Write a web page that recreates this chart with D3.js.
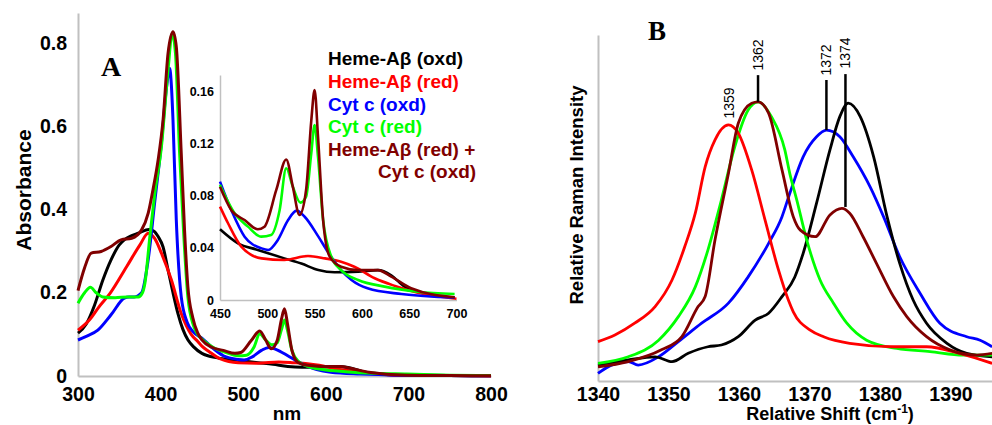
<!DOCTYPE html>
<html><head><meta charset="utf-8">
<script src="https://cdn.jsdelivr.net/npm/d3@7"></script>
<style>
body{margin:0;background:#fff;}
text{font-family:"Liberation Sans",Arial,sans-serif;}
</style></head>
<body><svg id="c" width="992" height="425"></svg>
<script>
// ---------- Panel A data (wavelength nm, absorbance) ----------
const hemeOxdA = [[300,0.103],[310,0.125],[320,0.17],[330,0.23],[340,0.279],[350,0.315],[356,0.327],[365,0.337],[373,0.343],[386,0.352],[392,0.348],[397,0.335],[403,0.31],[409,0.255],[415,0.2],[421,0.15],[427,0.112],[433,0.087],[440,0.07],[450,0.0544],[469,0.0436],[490,0.0385],[518,0.032],[536,0.028],[554,0.023],[571,0.0213],[596,0.0218],[617,0.023],[631,0.019],[645,0.0103],[666,0.005],[698,0.0018],[750,0.001],[800,0.0005]];
const hemeRedA = [[300,0.11],[314,0.135],[325,0.165],[339,0.199],[359,0.263],[375,0.315],[385,0.343],[393,0.33],[401,0.295],[413,0.231],[425,0.15],[437,0.1],[445,0.083],[450,0.0718],[458.5,0.059],[472.5,0.041],[494,0.032],[518,0.0308],[543,0.0338],[561,0.032],[578,0.0295],[592,0.0256],[613.5,0.0167],[635,0.0108],[659,0.0056],[700,0.001],[750,0.001],[800,0]];
const cytOxdA = [[300,0.0865],[310,0.095],[324,0.11],[340,0.147],[356,0.187],[362,0.19],[368,0.19],[377,0.2],[385,0.28],[393,0.42],[401,0.56],[407,0.69],[411,0.739],[413,0.7],[415,0.615],[419,0.375],[425,0.19],[432,0.13],[440,0.105],[450,0.091],[462,0.069],[476,0.0487],[494,0.0397],[501,0.0385],[511,0.046],[522,0.0615],[531,0.0687],[539.5,0.064],[554,0.0487],[564,0.037],[578,0.023],[589,0.0154],[606,0.009],[642,0.0046],[698,0.0018],[750,0.001],[800,0.0005]];
const cytRedA = [[300,0.175],[308,0.2],[315,0.213],[322,0.2],[330,0.19],[345,0.188],[360,0.19],[373,0.19],[378,0.2],[381,0.223],[387,0.335],[393,0.439],[401,0.551],[409,0.735],[414,0.823],[418,0.775],[423,0.535],[428,0.34],[433,0.19],[440,0.12],[445,0.1],[450,0.0885],[465.5,0.0667],[479.6,0.0564],[493.7,0.0487],[504,0.05],[513,0.069],[520,0.1013],[527,0.087],[535,0.0749],[541,0.0795],[546.5,0.113],[550,0.1346],[553.6,0.11],[559,0.0615],[567.7,0.0333],[578,0.023],[596,0.0154],[624,0.0103],[659,0.0064],[698,0.0046],[750,0.002],[800,0.001]];
const mixA = [[300,0.205],[308,0.26],[316,0.295],[328,0.299],[340,0.311],[352,0.327],[365,0.331],[377,0.351],[385,0.391],[391,0.45],[397,0.519],[403,0.615],[409,0.775],[415,0.827],[419,0.791],[425,0.535],[429,0.35],[433,0.215],[439,0.14],[445,0.103],[450,0.087],[462,0.069],[476,0.0615],[490,0.0544],[497,0.0564],[509.5,0.0846],[520,0.108],[527,0.087],[534,0.0654],[541,0.0846],[546.5,0.138],[550,0.1615],[553.6,0.1256],[559,0.0615],[566,0.0333],[578,0.0256],[596,0.023],[617,0.023],[631,0.018],[652,0.009],[698,0.002],[750,0.001],[800,0.0005]];

const xTicksA = [300,400,500,600,700,800];
const yTicksA = [0,0.2,0.4,0.6,0.8];
const xTicksInset = [450,500,550,600,650,700];
const yTicksInset = [0,0.04,0.08,0.12,0.16];

const legendLabels = ["Heme-A\u03b2 (oxd)","Heme-A\u03b2 (red)","Cyt c (oxd)","Cyt c (red)","Heme-A\u03b2 (red) +","Cyt c (oxd)"];

// ---------- Panel B data (relative shift cm-1, intensity) ----------
const hemeOxdB = [[1340,0.046],[1344.3,0.061],[1348.1,0.07],[1350.5,0.056],[1352.8,0.08],[1355.6,0.099],[1357.5,0.104],[1359.9,0.128],[1362.3,0.176],[1364.2,0.196],[1366.1,0.244],[1367.9,0.3],[1369.1,0.369],[1371,0.514],[1372.9,0.668],[1374.3,0.764],[1375.5,0.803],[1377.2,0.764],[1379.1,0.648],[1381,0.475],[1382.8,0.34],[1384.7,0.234],[1386.6,0.167],[1389.5,0.109],[1392.3,0.08],[1395.9,0.07]];
const hemeRedB = [[1340,0.114],[1342.4,0.133],[1345.2,0.167],[1348.1,0.215],[1350.5,0.292],[1352.3,0.388],[1353.8,0.485],[1355.2,0.619],[1356.6,0.697],[1358.5,0.74],[1359.9,0.716],[1361.8,0.61],[1363.7,0.465],[1365.6,0.321],[1367,0.234],[1367.7,0.2],[1370.1,0.147],[1372,0.128],[1375.7,0.109],[1381.9,0.099],[1386.6,0.099],[1391.3,0.08],[1395.9,0.051]];
const cytOxdB = [[1340,0.022],[1341.9,0.046],[1344.3,0.056],[1345.7,0.046],[1348.6,0.07],[1351.4,0.114],[1354.7,0.167],[1358.5,0.225],[1361.3,0.301],[1364.2,0.398],[1366.1,0.475],[1367.2,0.542],[1369.1,0.648],[1371,0.706],[1372.4,0.725],[1374.3,0.706],[1376.2,0.648],[1378.6,0.561],[1380.5,0.475],[1382.8,0.359],[1385.7,0.253],[1388.5,0.167],[1392.3,0.128],[1394.2,0.118],[1395.9,0.099]];
const cytRedB = [[1340,0.051],[1344.3,0.07],[1348.6,0.118],[1351.4,0.186],[1353.8,0.272],[1355.6,0.379],[1357.5,0.523],[1359.4,0.677],[1361.3,0.783],[1362.7,0.807],[1364.6,0.764],[1366.5,0.668],[1367.2,0.6],[1368.2,0.523],[1369.6,0.408],[1371.5,0.292],[1373.4,0.225],[1375.3,0.167],[1378.1,0.118],[1382.4,0.094],[1387.1,0.085],[1391.8,0.075],[1395.9,0.075]];
const mixB = [[1340,0.041],[1344.3,0.056],[1349,0.09],[1351.9,0.128],[1354.2,0.215],[1355.2,0.244],[1356.6,0.408],[1358.5,0.6],[1359.9,0.745],[1361.8,0.803],[1362.7,0.807],[1364.2,0.774],[1366.1,0.61],[1367.7,0.475],[1368.7,0.436],[1370.8,0.417],[1372.9,0.48],[1374.6,0.499],[1375.7,0.485],[1377.6,0.417],[1379.5,0.34],[1381.9,0.244],[1383.8,0.186],[1386.6,0.128],[1389.9,0.09],[1393.7,0.075],[1395.9,0.08]];

const xTicksB = [1340,1350,1360,1370,1380,1390];
const peakPos = [1358.6,1362.7,1372.4,1375.1];
const peakLabels = ["1359","1362","1372","1374"];
const stemTop = [null,0.884,0.87,0.887];
const stemBottom = [null,0.807,0.725,0.503];

const colors = ["#000000","#ff0000","#0000ff","#00ff00","#800000"];
const seriesA = [hemeOxdA, hemeRedA, cytOxdA, cytRedA, mixA];
const seriesB = [cytOxdB, hemeOxdB, cytRedB, hemeRedB, mixB];
const colorsB = ["#0000ff","#000000","#00ff00","#ff0000","#800000"];

const svg = d3.select("#c");
const AX = "#c0c0c0";
const tickFont = "19.5px";

// ---------- Panel A ----------
const xA = d3.scaleLinear().domain([300,800]).range([78,491]);
const yA = d3.scaleLinear().domain([0,0.872]).range([376,13]);
const gA = svg.append("g");

const axA_x = gA.append("g").attr("transform","translate(0,376)")
  .call(d3.axisBottom(xA).tickValues(xTicksA).tickSize(0).tickPadding(11).tickFormat(d3.format("d")));
const axA_y = gA.append("g").attr("transform","translate(78,0)")
  .call(d3.axisLeft(yA).tickValues(yTicksA).tickSize(0).tickPadding(11).tickFormat(d=>d===0?"0":d3.format(".1f")(d)));
[axA_x,axA_y].forEach(a=>{
  a.select(".domain").attr("stroke",AX).attr("stroke-width",2);
  a.selectAll("text").attr("font-size",tickFont).attr("font-weight","bold").attr("fill","#000")
   .attr("font-family","'Liberation Sans',Arial,sans-serif");
});

const lineA = d3.line().x(d=>xA(d[0])).y(d=>yA(d[1])).curve(d3.curveMonotoneX);
seriesA.forEach((s,i)=>{
  gA.append("path").datum(s).attr("d",lineA).attr("fill","none")
    .attr("stroke",colors[i]).attr("stroke-width",3).attr("stroke-linejoin","round");
});

gA.append("text").attr("transform","translate(31,190) rotate(-90)").attr("text-anchor","middle")
  .attr("font-size","21px").attr("font-weight","bold").text("Absorbance");
gA.append("text").attr("x",287).attr("y",420).attr("text-anchor","middle")
  .attr("font-size","19px").attr("font-weight","bold").text("nm");
gA.append("text").attr("x",101).attr("y",76)
  .attr("font-size","28px").attr("font-weight","bold").style("font-family","'Liberation Serif','Times New Roman',serif").text("A");

// Inset
const xI = d3.scaleLinear().domain([450,700]).range([220,456.5]);
const yI = d3.scaleLinear().domain([0,0.173]).range([300,75]);
const gI = svg.append("g");
const axI_x = gI.append("g").attr("transform","translate(0,300)")
  .call(d3.axisBottom(xI).tickValues(xTicksInset).tickSize(0).tickPadding(9).tickFormat(d3.format("d")));
const axI_y = gI.append("g").attr("transform","translate(220,0)")
  .call(d3.axisLeft(yI).tickValues(yTicksInset).tickSize(0).tickPadding(6).tickFormat(d=>d===0?"0":d3.format(".2f")(d)));
[axI_x,axI_y].forEach(a=>{
  a.select(".domain").attr("stroke",AX).attr("stroke-width",1.5);
  a.selectAll("text").attr("font-size","12.5px").attr("font-weight","bold").attr("fill","#000")
   .attr("font-family","'Liberation Sans',Arial,sans-serif");
});
const lineI = d3.line().x(d=>xI(d[0])).y(d=>yI(d[1])).curve(d3.curveMonotoneX);
seriesA.forEach((s,i)=>{
  gI.append("path").datum(s.filter(d=>d[0]>=450&&d[0]<=700)).attr("d",lineI).attr("fill","none")
    .attr("stroke",colors[i]).attr("stroke-width",2.6).attr("stroke-linejoin","round");
});

// Legend
const legColors = [colors[0],colors[1],colors[2],colors[3],colors[4],colors[4]];
const legX = [328,328,328,328,328,378];
const legY = [65,88,110.5,133,155.5,178];
legendLabels.forEach((t,i)=>{
  svg.append("text").attr("x",legX[i]).attr("y",legY[i]).attr("fill",legColors[i])
    .attr("font-size","19px").attr("font-weight","bold").text(t);
});

// ---------- Panel B ----------
const xB = d3.scaleLinear().domain([1340,1340+394/7.05]).range([598,992]);
const yB = d3.scaleLinear().domain([0,1]).range([381,35]);
const gB = svg.append("g");
const axB_x = gB.append("g").attr("transform","translate(0,381)")
  .call(d3.axisBottom(xB).tickValues(xTicksB).tickSize(0).tickPadding(6).tickFormat(d3.format("d")));
axB_x.select(".domain").attr("stroke",AX).attr("stroke-width",2);
axB_x.selectAll("text").attr("font-size",tickFont).attr("font-weight","bold").attr("fill","#000")
   .attr("font-family","'Liberation Sans',Arial,sans-serif");
const axB_y = gB.append("g").attr("transform","translate(598,0)")
  .call(d3.axisLeft(yB).tickValues([]).tickSize(0));
axB_y.select(".domain").attr("stroke",AX).attr("stroke-width",2);

const lineB = d3.line().x(d=>xB(d[0])).y(d=>yB(d[1])).curve(d3.curveMonotoneX);
seriesB.forEach((s,i)=>{
  gB.append("path").datum(s).attr("d",lineB).attr("fill","none")
    .attr("stroke",colorsB[i]).attr("stroke-width",2.8).attr("stroke-linejoin","round");
});

// peak stems and labels
peakPos.forEach((p,i)=>{
  if(stemTop[i]!==null){
    gB.append("line").attr("x1",xB(p)).attr("x2",xB(p)).attr("y1",yB(stemTop[i])).attr("y2",yB(stemBottom[i]))
      .attr("stroke","#000").attr("stroke-width",2.5);
  }
});
const labY = [103,55,60,53];
peakLabels.forEach((t,i)=>{
  gB.append("text").attr("transform",`translate(${xB(peakPos[i])+5},${labY[i]}) rotate(-90)`)
    .attr("text-anchor","middle").attr("font-size","14px").text(t);
});

gB.append("text").attr("transform","translate(583,195) rotate(-90)").attr("text-anchor","middle")
  .attr("font-size","18.5px").attr("font-weight","bold").text("Relative Raman Intensity");
const xl = gB.append("text").attr("x",830).attr("y",420).attr("text-anchor","middle")
  .attr("font-size","18px").attr("font-weight","bold");
xl.append("tspan").text("Relative Shift (cm");
xl.append("tspan").attr("dy",-7).attr("font-size","12px").text("-1");
xl.append("tspan").attr("dy",7).text(")");
gB.append("text").attr("x",657).attr("y",40).attr("text-anchor","middle")
  .attr("font-size","27px").attr("font-weight","bold").style("font-family","'Liberation Serif','Times New Roman',serif").text("B");
</script></body></html>
